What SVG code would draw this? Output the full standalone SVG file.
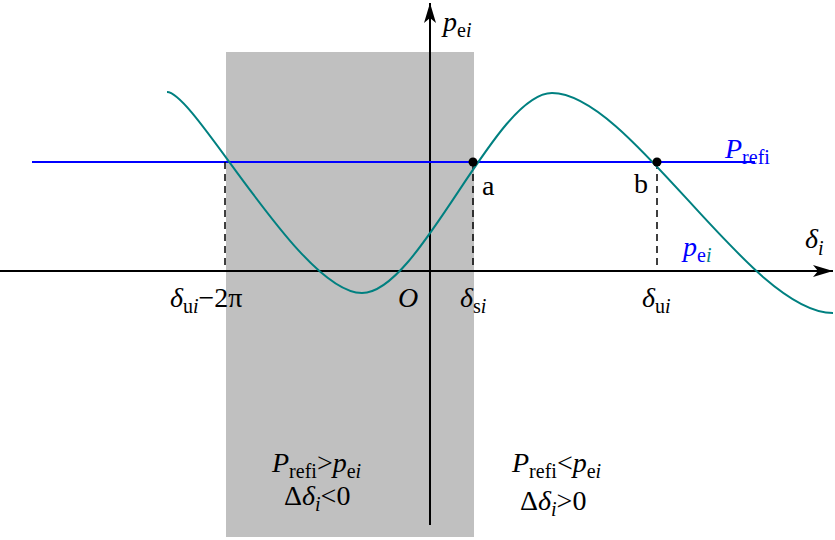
<svg xmlns="http://www.w3.org/2000/svg" width="835" height="540" viewBox="0 0 835 540">
<defs>
<marker id="ar" viewBox="0 0 20 12" refX="20" refY="6" markerWidth="20" markerHeight="12" markerUnits="userSpaceOnUse" orient="auto"><path d="M0,0 L20,6 L0,12 L5,6 Z" fill="#000"/></marker>
</defs>
<style>
.it{font-style:italic}
.sub{font-size:20px}
.bl{fill:#0000ff}
.dash{stroke:#000;stroke-width:1.5;stroke-dasharray:7,5;fill:none}
</style>
<rect x="226" y="52" width="248" height="485" fill="#c0c0c0"/>
<g id="connectors">
<line x1="0" y1="271" x2="833" y2="271" stroke="#000" stroke-width="2" marker-end="url(#ar)"/>
<line x1="430" y1="525" x2="430" y2="3" stroke="#000" stroke-width="2" marker-end="url(#ar)"/>
<line x1="32" y1="162" x2="755" y2="162" stroke="#0000ff" stroke-width="2"/>
<line class="dash" x1="225" y1="162" x2="225" y2="271"/>
<line class="dash" x1="473" y1="162" x2="473" y2="271"/>
<line class="dash" x1="657" y1="162" x2="657" y2="271"/>
</g>
<g id="curve">
<path d="M167,92 C195,92 300,293 362,293 C420,293 495,93 552,93 C630,93 750,313 833,313" fill="none" stroke="#008080" stroke-width="2"/>
</g>
<g id="points">
<circle cx="473" cy="162" r="4.5" fill="#000"/>
<circle cx="657" cy="162" r="4.5" fill="#000"/>
</g>
<g id="labels" font-family="'Liberation Serif','Times New Roman','DejaVu Serif',serif" font-size="28" fill="#000">
<text x="443" y="31"><tspan class="it">p</tspan><tspan class="sub" dy="6">e<tspan class="it">i</tspan></tspan></text>
<text x="805" y="248" class="it">δ<tspan class="sub" dy="7">i</tspan></text>
<text x="725" y="158" class="bl"><tspan class="it">P</tspan><tspan class="sub" dy="6">refi</tspan></text>
<text x="683" y="256" class="bl"><tspan class="it">p</tspan><tspan class="sub" dy="6">e<tspan class="it" fill="#008080">i</tspan></tspan></text>
<text x="482" y="195">a</text>
<text x="634" y="193">b</text>
<text x="170" y="307"><tspan class="it">δ</tspan><tspan class="sub" dy="6">u<tspan class="it">i</tspan></tspan><tspan dy="-6">−2π</tspan></text>
<text x="398" y="307" class="it">O</text>
<text x="460" y="307"><tspan class="it">δ</tspan><tspan class="sub" dy="6">s<tspan class="it">i</tspan></tspan></text>
<text x="642" y="307"><tspan class="it">δ</tspan><tspan class="sub" dy="6">u<tspan class="it">i</tspan></tspan></text>
<text x="272" y="472"><tspan class="it">P</tspan><tspan class="sub" dy="6">refi</tspan><tspan dy="-6">&gt;</tspan><tspan class="it">p</tspan><tspan class="sub" dy="6">e<tspan class="it">i</tspan></tspan></text>
<text x="284" y="505">Δ<tspan class="it">δ</tspan><tspan class="sub it" dy="6">i</tspan><tspan dy="-6">&lt;0</tspan></text>
<text x="512" y="472"><tspan class="it">P</tspan><tspan class="sub" dy="6">refi</tspan><tspan dy="-6">&lt;</tspan><tspan class="it">p</tspan><tspan class="sub" dy="6">e<tspan class="it">i</tspan></tspan></text>
<text x="520" y="510">Δ<tspan class="it">δ</tspan><tspan class="sub it" dy="6">i</tspan><tspan dy="-6">&gt;0</tspan></text>
</g>
</svg>
